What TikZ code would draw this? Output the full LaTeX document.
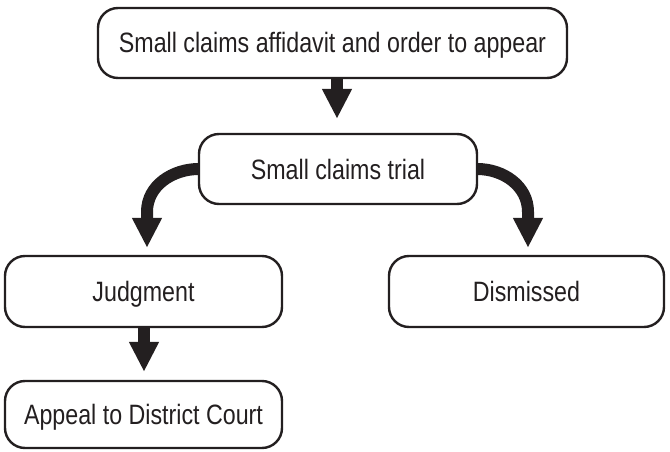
\documentclass[tikz,border=0pt]{standalone}
\usepackage{fontspec}
\setmainfont{Liberation Sans}[FakeStretch=0.83]
\usetikzlibrary{arrows.meta}
\definecolor{ink}{HTML}{231F20}
\begin{document}
\begin{tikzpicture}[x=1pt,y=1pt,
  box/.style={draw=ink, line width=2.4pt, rounded corners=20pt, text=ink,
    font=\fontsize{28}{30}\selectfont, inner sep=0pt, anchor=center,
    text height=20pt, text depth=0pt},
  bigarrow/.style={draw=ink, line width=12pt,
    -{Triangle[width=28pt,length=30pt,fill=ink]}}]
\useasboundingbox (0,0) rectangle (670,451);
\node[box, minimum width=469pt, minimum height=70pt] (b1) at (332.5,408) {Small claims affidavit and order to appear};
\node[box, minimum width=278pt, minimum height=70pt] (b2) at (338,282) {Small claims trial};
\node[box, minimum width=277pt, minimum height=71pt] (b3) at (143.5,159.5) {Judgment};
\node[box, minimum width=275pt, minimum height=71pt] (b4) at (526.5,159.5) {Dismissed};
\node[box, minimum width=277pt, minimum height=67pt] (b5) at (143.5,36.5) {Appeal to District Court};
\draw[bigarrow] ([xshift=4.5pt]b1.south) -- ([xshift=-1pt,yshift=14pt]b2.north);
\draw[bigarrow] ([xshift=1pt]b2.west) to[out=180,in=90] ([xshift=3.5pt,yshift=43pt]b3.north) -- ([xshift=3.5pt,yshift=7pt]b3.north);
\draw[bigarrow] ([xshift=-1pt]b2.east) to[out=0,in=90] ([xshift=1.5pt,yshift=43pt]b4.north) -- ([xshift=1.5pt,yshift=7pt]b4.north);
\draw[bigarrow] ([xshift=0.5pt]b3.south) -- ([xshift=0.5pt,yshift=8pt]b5.north);
\end{tikzpicture}
\end{document}
